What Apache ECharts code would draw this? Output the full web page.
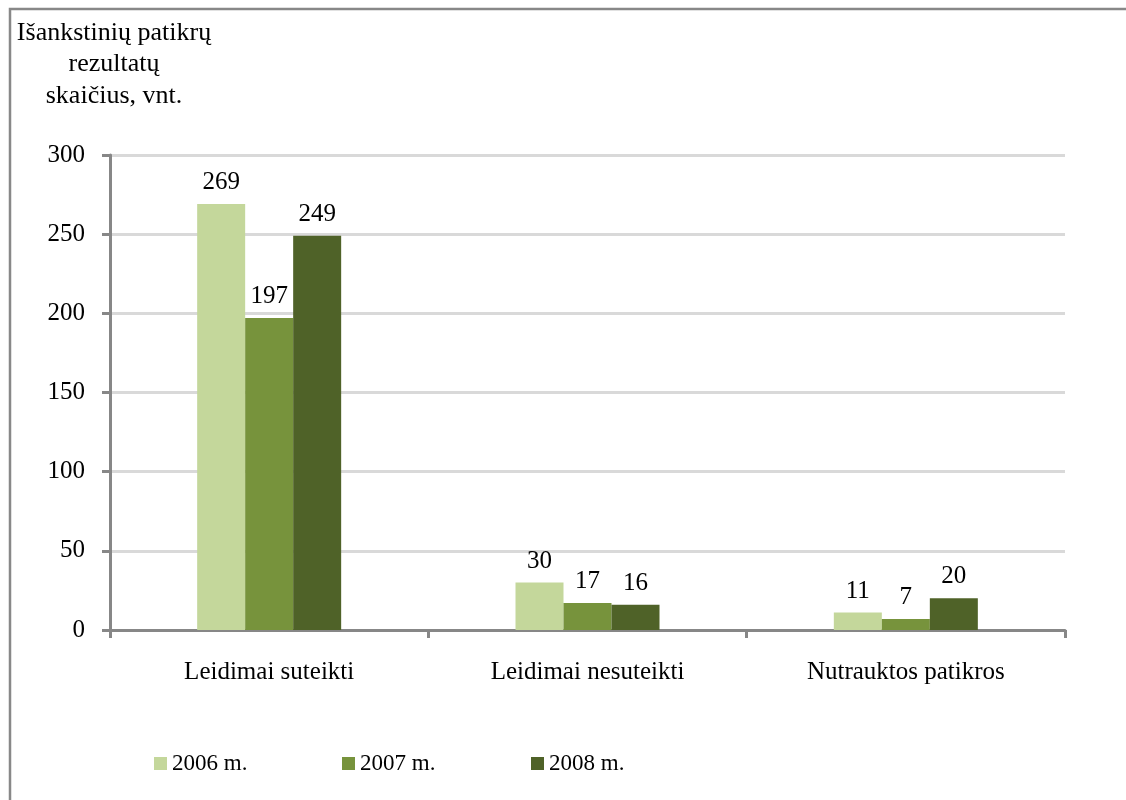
<!DOCTYPE html>
<html><head><meta charset="utf-8">
<script src="https://cdn.jsdelivr.net/npm/echarts@6/dist/echarts.min.js"></script>
<style>html,body{margin:0;padding:0;background:#fff}#c{width:1126px;height:800px}</style>
</head><body><div id="c"></div>
<script>
const categories = ['Leidimai suteikti', 'Leidimai nesuteikti', 'Nutrauktos patikros'];
const seriesNames = ['2006 m.', '2007 m.', '2008 m.'];
const values2006 = [269, 30, 11];
const values2007 = [197, 17, 7];
const values2008 = [249, 16, 20];
const yTicks = [0, 50, 100, 150, 200, 250, 300];
const colors = ['#C4D79B', '#77933C', '#4F6228'];
const font = 'Liberation Serif';
const fs = 25;

const chart = echarts.init(document.getElementById('c'), null, {renderer: 'canvas'});
const data = [values2006, values2007, values2008];
const legendLefts = [149, 337, 526];
chart.setOption({
  animation: false,
  textStyle: {fontFamily: font},
  graphic: [{
    type: 'rect', shape: {x: 10, y: 9, width: 1130, height: 800},
    style: {fill: 'none', stroke: '#888888', lineWidth: 2.5}, silent: true
  }, {
    type: 'text', x: 114, y: 17,
    style: {text: 'Išankstinių patikrų\nrezultatų\nskaičius, vnt.', align: 'center', verticalAlign: 'top',
      fontFamily: font, fontSize: 26, lineHeight: 31.5, fill: '#000'}
  }],
  legend: seriesNames.map((n, i) => ({
    data: [n], left: legendLefts[i], top: 747, itemWidth: 13, itemHeight: 13, itemGap: 2,
    icon: 'rect', textStyle: {fontFamily: font, fontSize: 23, color: '#000'}
  })),
  grid: {left: 110, right: 61, top: 155, bottom: 170, containLabel: false},
  xAxis: {
    type: 'category', data: categories,
    axisLine: {lineStyle: {color: '#878787', width: 3}},
    axisTick: {show: true, length: 8, lineStyle: {color: '#878787', width: 3}},
    axisLabel: {fontFamily: font, fontSize: fs, color: '#000', margin: 30}
  },
  yAxis: {
    type: 'value', min: 0, max: 300, interval: 50,
    axisLine: {show: true, lineStyle: {color: '#878787', width: 3}},
    axisTick: {show: true, length: 8, lineStyle: {color: '#878787', width: 3}},
    axisLabel: {fontFamily: font, fontSize: fs, color: '#000', margin: 25,
      formatter: v => yTicks.includes(v) ? String(v) : ''},
    splitLine: {lineStyle: {color: '#D9D9D9', width: 3}}
  },
  series: seriesNames.map((n, i) => ({
    name: n, type: 'bar', data: data[i], barWidth: 48, barGap: '0%',
    itemStyle: {color: colors[i]},
    label: {show: true, position: 'top', distance: 9, fontFamily: font, fontSize: fs, color: '#000'}
  }))
});
</script></body></html>
